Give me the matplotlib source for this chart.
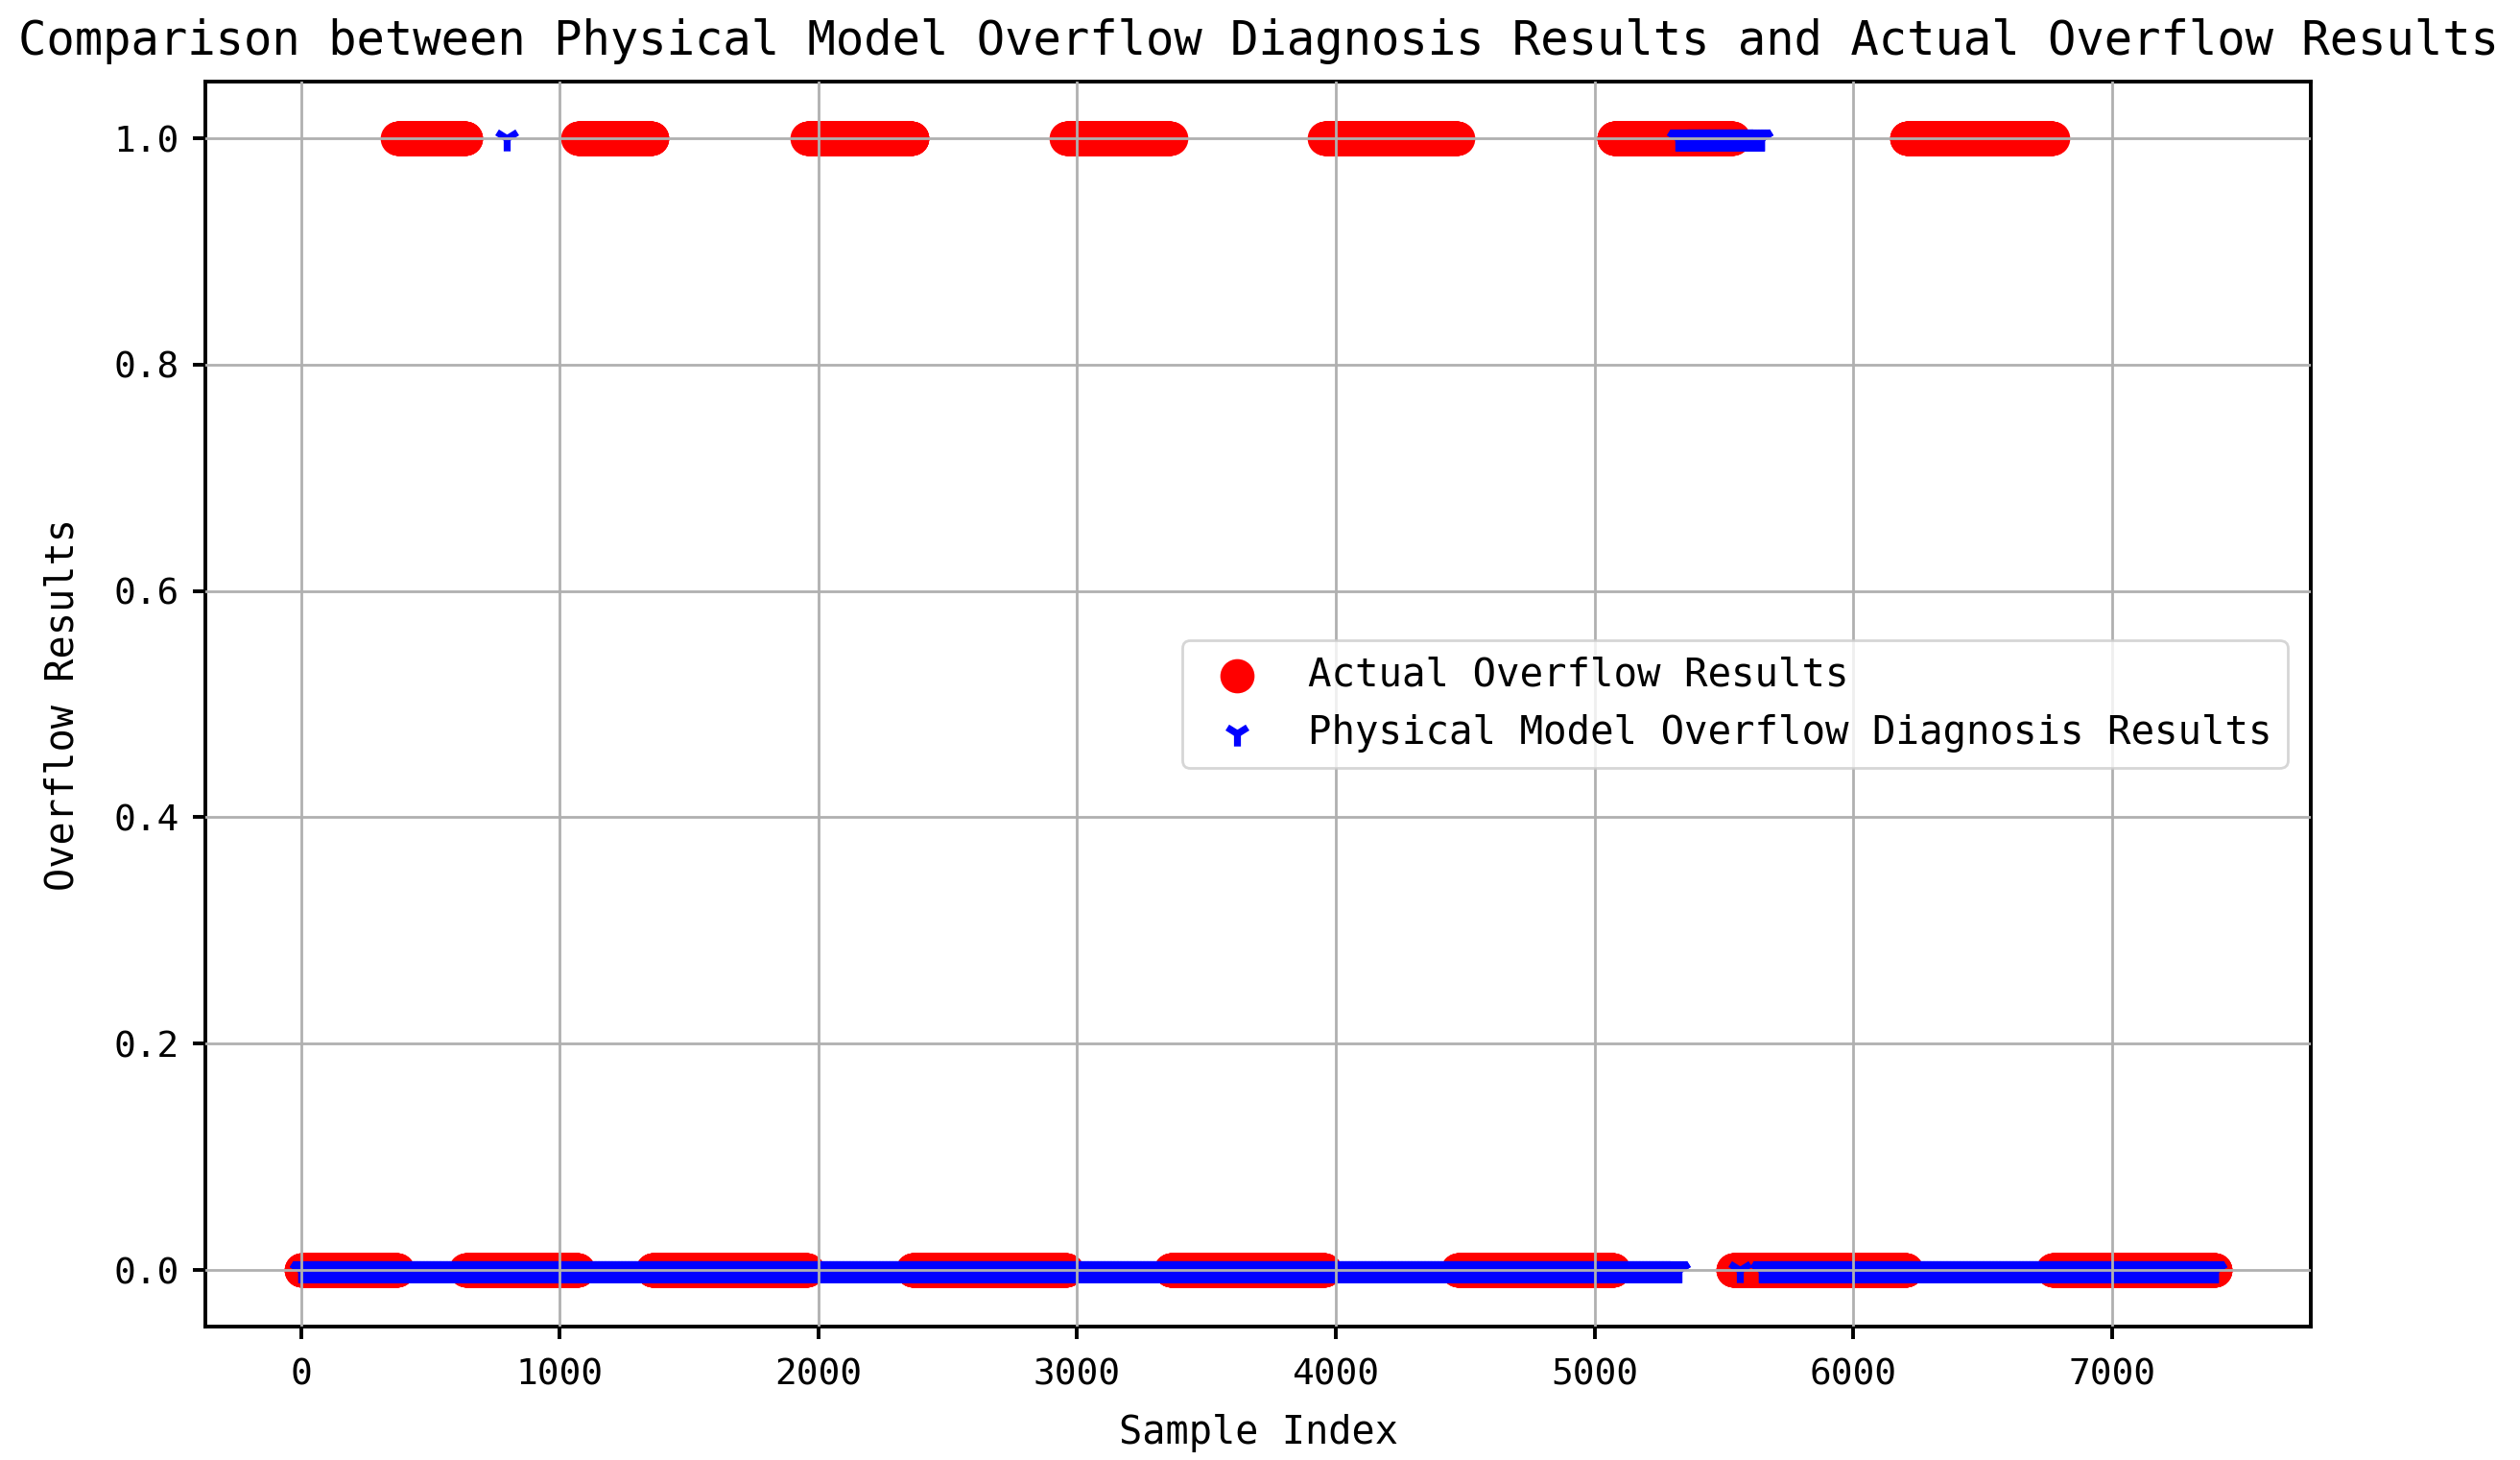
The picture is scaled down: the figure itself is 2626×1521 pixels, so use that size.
import numpy as np
import matplotlib
matplotlib.use('Agg')
import matplotlib.pyplot as plt

# runs (sample index ranges, inclusive)
n_samples = 7400
actual_one_starts = [373, 1071, 1957, 2959, 3957, 5074, 6206]
actual_one_ends = [636, 1356, 2362, 3360, 4470, 5534, 6770]
pred_one_starts = [795, 5325]
pred_one_ends = [795, 5645]
pred_zero_inside = [5562]

title = 'Comparison between Physical Model Overflow Diagnosis Results and Actual Overflow Results'
x_label = 'Sample Index'
y_label = 'Overflow Results'
actual_label = 'Actual Overflow Results'
pred_label = 'Physical Model Overflow Diagnosis Results'

idx = np.arange(n_samples)
actual = np.zeros(n_samples)
for s, e in zip(actual_one_starts, actual_one_ends):
    actual[s:e + 1] = 1
pred = np.zeros(n_samples)
for s, e in zip(pred_one_starts, pred_one_ends):
    pred[s:e + 1] = 1
pred[pred_zero_inside] = 0

plt.rcParams['font.family'] = ['DejaVu Sans Mono', 'DejaVu Sans']

fig = plt.figure(figsize=(13.13, 7.605), dpi=200)
ax = fig.add_axes([0.0815, 0.0914, 0.8355, 0.8526])

ax.scatter(idx, actual, s=140, c='red', marker='o', label=actual_label)
ax.scatter(idx, pred, s=90, c='blue', marker='1', linewidths=2.6, label=pred_label)

ax.set_title(title, fontsize=17.6, pad=10)
ax.set_xlabel(x_label, fontsize=14.5, labelpad=8)
ax.set_ylabel(y_label, fontsize=14.5, labelpad=12)
ax.tick_params(labelsize=13.6, length=4.7, width=1.4)
ax.tick_params(axis='x', pad=7)
ax.tick_params(axis='y', pad=5)
for sp in ax.spines.values():
    sp.set_linewidth(1.4)

ax.set_xticks([0, 1000, 2000, 3000, 4000, 5000, 6000, 7000])
ax.set_yticks([0.0, 0.2, 0.4, 0.6, 0.8, 1.0])
ax.grid(True, color='#b0b0b0', linewidth=1.0)
ax.set_axisbelow(False)

ax.legend(loc='center right', fontsize=14.7, borderaxespad=0.6)

fig.savefig('out.png', dpi=200)
